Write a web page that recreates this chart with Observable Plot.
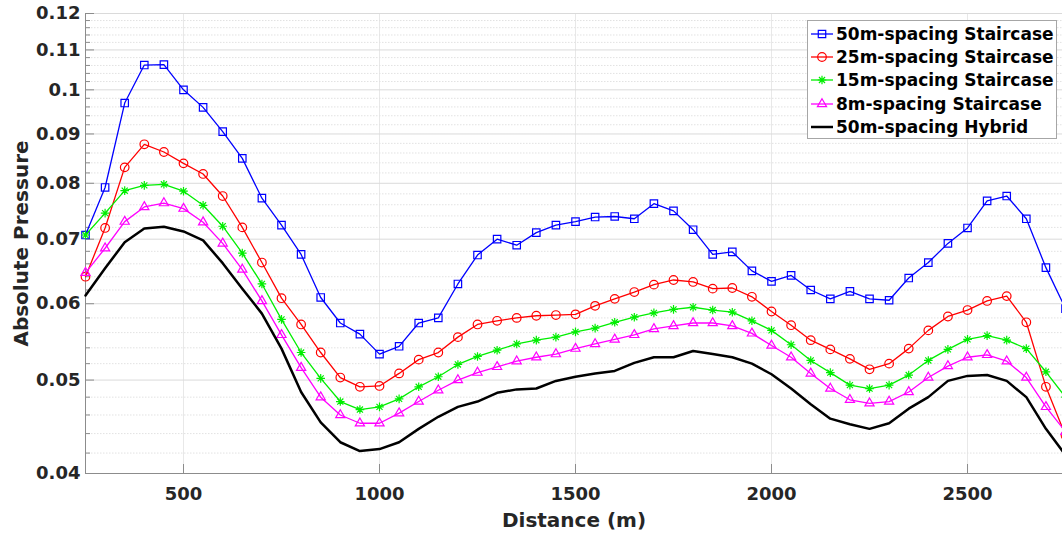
<!DOCTYPE html>
<html><head><meta charset="utf-8">
<script src="https://cdn.jsdelivr.net/npm/d3@7"></script>
<script src="https://cdn.jsdelivr.net/npm/@observablehq/plot@0.6"></script>
<style>
body{margin:0;background:#fff;}
#wrap{position:relative;width:1062px;height:535px;overflow:hidden;font-family:"DejaVu Sans",sans-serif;}
#legend{position:absolute;left:807px;top:20px;width:250px;height:119px;border:1px solid #a6a6a6;background:#fff;box-sizing:border-box;padding-top:1px;}
.row{height:23.3px;display:flex;align-items:center;font-weight:bold;font-size:17px;color:#000;white-space:nowrap;}
.row svg{margin-left:3px;margin-right:3px;flex:none;}
</style></head><body><div id="wrap"><div id="legend"></div></div>
<script>
// ---- data ----
const distance = [250,300,350,400,450,500,550,600,650,700,750,800,850,900,950,1000,1050,1100,1150,1200,1250,1300,1350,1400,1450,1500,1550,1600,1650,1700,1750,1800,1850,1900,1950,2000,2050,2100,2150,2200,2250,2300,2350,2400,2450,2500,2550,2600,2650,2700,2750];
const xTicks = [500,1000,1500,2000,2500];
const xTickLabels = ["500","1000","1500","2000","2500"];
const yTicks = [0.04,0.05,0.06,0.07,0.08,0.09,0.1,0.11,0.12];
const yTickLabels = ["0.04","0.05","0.06","0.07","0.08","0.09","0.1","0.11","0.12"];
const seriesNames = ["50m-spacing Staircase","25m-spacing Staircase","15m-spacing Staircase","8m-spacing Staircase","50m-spacing Hybrid"];
const stair50 = [0.0707,0.0792,0.0969,0.1061,0.1062,0.1000,0.0959,0.0905,0.0849,0.0772,0.0724,0.0675,0.0609,0.0573,0.0558,0.0532,0.0542,0.0573,0.0580,0.0629,0.0674,0.0700,0.0690,0.0711,0.0724,0.0730,0.0738,0.0739,0.0735,0.0762,0.0749,0.0716,0.0675,0.0679,0.0649,0.0633,0.0642,0.0620,0.0607,0.0618,0.0607,0.0605,0.0638,0.0662,0.0693,0.0719,0.0767,0.0776,0.0735,0.0654,0.0593];
const stair25 = [0.0640,0.0719,0.0831,0.0878,0.0862,0.0839,0.0818,0.0776,0.0720,0.0662,0.0608,0.0571,0.0534,0.0503,0.0492,0.0493,0.0508,0.0525,0.0534,0.0554,0.0571,0.0576,0.0580,0.0583,0.0584,0.0585,0.0597,0.0607,0.0617,0.0628,0.0635,0.0632,0.0622,0.0623,0.0610,0.0589,0.0570,0.0550,0.0538,0.0526,0.0513,0.0520,0.0539,0.0563,0.0582,0.0591,0.0604,0.0611,0.0574,0.0492,0.0438];
const stair15 = [0.0707,0.0745,0.0786,0.0796,0.0798,0.0785,0.0759,0.0722,0.0677,0.0629,0.0578,0.0534,0.0502,0.0475,0.0466,0.0469,0.0478,0.0492,0.0504,0.0519,0.0529,0.0537,0.0545,0.0550,0.0554,0.0561,0.0566,0.0574,0.0581,0.0587,0.0592,0.0595,0.0591,0.0588,0.0576,0.0563,0.0544,0.0524,0.0509,0.0494,0.0490,0.0494,0.0506,0.0524,0.0538,0.0551,0.0556,0.0550,0.0539,0.0510,0.0480];
const stair8 = [0.0646,0.0685,0.0730,0.0756,0.0763,0.0753,0.0729,0.0693,0.0651,0.0604,0.0557,0.0515,0.0480,0.0460,0.0451,0.0451,0.0462,0.0475,0.0488,0.0500,0.0509,0.0516,0.0523,0.0528,0.0532,0.0539,0.0545,0.0551,0.0557,0.0565,0.0569,0.0573,0.0573,0.0569,0.0559,0.0543,0.0528,0.0508,0.0490,0.0477,0.0473,0.0475,0.0486,0.0503,0.0517,0.0528,0.0531,0.0523,0.0503,0.0469,0.0442];
const hybrid50 = [0.0612,0.0653,0.0695,0.0718,0.0721,0.0713,0.0698,0.0661,0.0622,0.0586,0.0539,0.0486,0.0452,0.0431,0.0422,0.0424,0.0431,0.0445,0.0458,0.0469,0.0475,0.0485,0.0489,0.0490,0.0499,0.0504,0.0508,0.0511,0.0521,0.0528,0.0528,0.0536,0.0532,0.0528,0.0520,0.0507,0.0490,0.0472,0.0456,0.0450,0.0445,0.0451,0.0467,0.0480,0.0499,0.0505,0.0506,0.0499,0.0480,0.0445,0.0418];

// ---- styling ----
const asterisk8 = {draw(context, size) {
  const r = Math.sqrt(size / Math.PI), d = r * Math.SQRT1_2;
  context.moveTo(-r, 0); context.lineTo(r, 0);
  context.moveTo(0, -r); context.lineTo(0, r);
  context.moveTo(-d, -d); context.lineTo(d, d);
  context.moveTo(-d, d); context.lineTo(d, -d);
}};
const series = [
  {name: seriesNames[0], values: stair50, color: "#0000ff", symbol: "square", r: 4.2, width: 1.3},
  {name: seriesNames[1], values: stair25, color: "#ff0000", symbol: "circle", r: 4.3, width: 1.3},
  {name: seriesNames[2], values: stair15, color: "#00ee00", symbol: asterisk8, r: 4.3, width: 1.3},
  {name: seriesNames[3], values: stair8, color: "#ff00ff", symbol: "triangle", r: 3.4, width: 1.3},
  {name: seriesNames[4], values: hybrid50, color: "#000000", symbol: null, r: 0, width: 2.5}
];

const minor = d3.range(42, 120, 2).filter(v => v % 10 !== 0).map(v => v / 1000);
const axisGray = "#8c8c8c";

const marks = [
  Plot.ruleX(xTicks, {stroke: "#e8e8e8"}),
  Plot.ruleY(minor, {stroke: "#e2e2e2", strokeDasharray: "1.5,1.5"}),
  Plot.ruleY(yTicks, {stroke: "#dadada"}),
  Plot.ruleX([250], {stroke: axisGray}),
  Plot.ruleY([0.04], {stroke: axisGray}),
  Plot.axisX({ticks: xTicks, tickSize: -9, tickFormat: () => "", stroke: axisGray, label: null}),
  Plot.axisY({ticks: yTicks, tickSize: -9, tickFormat: () => "", stroke: axisGray, label: null}),
  Plot.axisY({ticks: minor, tickSize: -5, tickFormat: () => "", stroke: axisGray, label: null}),
  Plot.axisX({ticks: xTicks, tickSize: 0, tickPadding: 14, fontSize: 18, fill: "#262626",
    tickFormat: d => xTickLabels[xTicks.indexOf(d)], label: null}),
  Plot.axisY({ticks: yTicks, tickSize: 0, tickPadding: 5, fontSize: 18, fill: "#262626",
    tickFormat: d => yTickLabels[yTicks.findIndex(t => Math.abs(t - d) < 1e-9)], label: null}),
  Plot.text(["Distance (m)"], {text: d => d, frameAnchor: "bottom", textAnchor: "middle", dy: 53, lineAnchor: "bottom", fontSize: 20, fontWeight: "bold", fill: "#262626"}),
  Plot.text(["Absolute Pressure"], {text: d => d, frameAnchor: "left", textAnchor: "middle", dx: -72, rotate: -90, lineAnchor: "top", fontSize: 20, fontWeight: "bold", fill: "#262626"})
];
for (const s of series) {
  marks.push(Plot.line(distance, {x: distance, y: s.values, stroke: s.color, strokeWidth: s.width}));
  if (s.symbol) marks.push(Plot.dot(distance, {x: distance, y: s.values, stroke: s.color, fill: "none", symbol: s.symbol, r: s.r, strokeWidth: 1.2}));
}

const chart = Plot.plot({
  width: 1062, height: 535,
  marginLeft: 85, marginRight: 0, marginTop: 13, marginBottom: 62,
  style: {fontFamily: "DejaVu Sans", fontWeight: "bold", color: "#262626", background: "#fff", overflow: "visible"},
  x: {type: "linear", domain: [250, 2742.3]},
  y: {type: "log", domain: [0.04, 0.12]},
  marks
});
const wrap = document.getElementById("wrap");
wrap.insertBefore(chart, wrap.firstChild);

// ---- legend ----
const legend = document.getElementById("legend");
for (const s of series) {
  const row = document.createElement("div");
  row.className = "row";
  let sym = "";
  if (s.symbol) {
    const type = typeof s.symbol === "string" ? {square: d3.symbolSquare, circle: d3.symbolCircle, triangle: d3.symbolTriangle}[s.symbol] : s.symbol;
    const p = d3.symbol(type, Math.PI * s.r * s.r)();
    sym = `<path d="${p}" transform="translate(11,10)" fill="none" stroke="${s.color}" stroke-width="1.2"/>`;
  }
  row.innerHTML = `<svg width="22" height="20"><line x1="0" x2="22" y1="10" y2="10" stroke="${s.color}" stroke-width="${s.width}"/>${sym}</svg><span>${s.name}</span>`;
  legend.appendChild(row);
}
</script>
</body></html>
